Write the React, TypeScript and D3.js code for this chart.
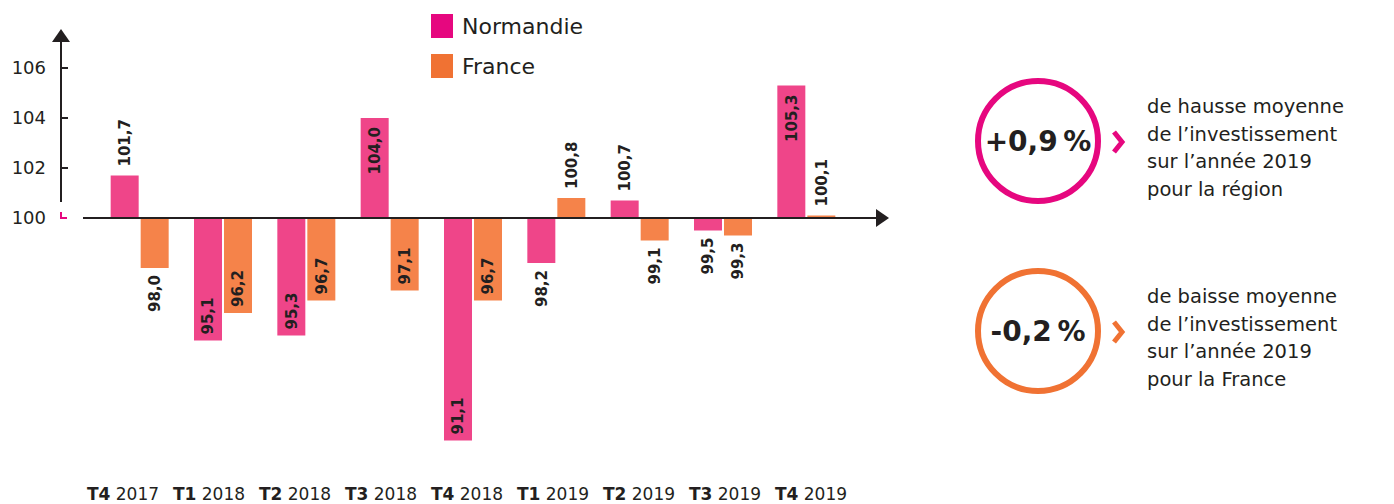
import { useEffect } from 'react';
import * as d3 from 'd3';

// quarters and indices (base 100)
const quarters = ["T4 2017", "T1 2018", "T2 2018", "T3 2018", "T4 2018", "T1 2019", "T2 2019", "T3 2019", "T4 2019"];
const normandie = [101.7, 95.1, 95.3, 104.0, 91.1, 98.2, 100.7, 99.5, 105.3];
const france = [98.0, 96.2, 96.7, 97.1, 96.7, 100.8, 99.1, 99.3, 100.1];
const yTicks = [100, 102, 104, 106];
const seriesNames = ["Normandie", "France"];

const barColors = { Normandie: "#ef4589", France: "#f5834a" };
const legendColors = { Normandie: "#e6077f", France: "#f07233" };

const FONT = "'DejaVu Sans', 'Noto Sans', sans-serif";
const fmt = (v: number) => v.toFixed(1).replace(".", ",");

const App = () => {
  useEffect(() => {
    document.body.style.margin = "0";
  }, []);

  const width = 1394;
  const height = 504;

  const y = d3.scaleLinear().domain([100, 106]).range([218, 68]);
  const x = d3.scaleBand().domain(quarters).range([98, 848]);
  const xInner = d3.scaleBand().domain(seriesNames).range([0, 58]).paddingInner(2 / 30);
  // the quarter labels sit on a slightly wider grid than the bars
  const xLabel = d3.scaleBand().domain(quarters).range([80, 854]);

  const bars = quarters.flatMap((q, i) => [
    { q, series: "Normandie", value: normandie[i] },
    { q, series: "France", value: france[i] },
  ]);

  const y0 = y(100);
  const barX = (d: { q: string; series: string }) =>
    (x(d.q) as number) + (x.bandwidth() - 58) / 2 + (xInner(d.series) as number);

  return (
    <svg width={width} height={height} style={{ display: "block", fontFamily: FONT }}>
      {/* y axis */}
      <line x1={61} x2={61} y1={202} y2={42} stroke="#231f20" strokeWidth={2} />
      <path d="M52,42 L61,29 L70,42 Z" fill="#231f20" />
      {yTicks.filter(t => t !== 100).map(t => (
        <line key={t} x1={61} x2={68} y1={y(t)} y2={y(t)} stroke="#231f20" strokeWidth={2} />
      ))}
      {yTicks.map(t => (
        <text key={t} x={46} y={y(t)} dy="0.36em" textAnchor="end" fontSize={18} fill="#231f20">{t}</text>
      ))}
      {/* axis break mark */}
      <path d="M61,212 L61,218 L67,218" fill="none" stroke="#e6077f" strokeWidth={2} />

      {/* bars */}
      {bars.map(d => {
        const top = Math.min(y(d.value), y0);
        const h = Math.abs(y(d.value) - y0);
        return (
          <rect key={d.q + d.series} x={barX(d)} y={top} width={xInner.bandwidth()} height={h}
            fill={barColors[d.series as keyof typeof barColors]} />
        );
      })}

      {/* x axis */}
      <line x1={83} x2={878} y1={y0} y2={y0} stroke="#231f20" strokeWidth={2} />
      <path d="M876,209 L889,218 L876,227 Z" fill="#231f20" />

      {/* value labels */}
      {bars.map(d => {
        const cx = barX(d) + xInner.bandwidth() / 2;
        const end = y(d.value);
        const inside = Math.abs(end - y0) > 55;
        const up = d.value >= 100;
        let ay: number;
        let anchor: string;
        if (up) {
          ay = inside ? end + 9 : end - 9;
          anchor = inside ? "end" : "start";
        } else {
          ay = inside ? end - 6 : end + 7;
          anchor = inside ? "start" : "end";
        }
        return (
          <text key={"l" + d.q + d.series} transform={`translate(${cx},${ay}) rotate(-90)`}
            dy="0.36em" textAnchor={anchor} fontSize={15} fontWeight={700} fill="#231f20">
            {fmt(d.value)}
          </text>
        );
      })}

      {/* quarter labels */}
      {quarters.map(q => {
        const [t, yr] = q.split(" ");
        return (
          <text key={q} x={(xLabel(q) as number) + xLabel.bandwidth() / 2} y={500}
            textAnchor="middle" fontSize={17} fill="#231f20">
            <tspan fontWeight={700}>{t}</tspan>
            <tspan> {yr}</tspan>
          </text>
        );
      })}

      {/* legend */}
      {seriesNames.map((s, i) => (
        <g key={s} transform={`translate(431,${14 + i * 40})`}>
          <rect width={22} height={24} fill={legendColors[s as keyof typeof legendColors]} />
          <text x={31} y={12} dy="0.36em" fontSize={22} fill="#231f20">{s}</text>
        </g>
      ))}

      {/* callouts */}
      {[
        { cy: 141, color: legendColors.Normandie, value: "+0,9\u202f%", lines: ["de hausse moyenne", "de l\u2019investissement", "sur l\u2019ann\u00e9e 2019", "pour la r\u00e9gion"] },
        { cy: 331, color: legendColors.France, value: "-0,2\u202f%", lines: ["de baisse moyenne", "de l\u2019investissement", "sur l\u2019ann\u00e9e 2019", "pour la France"] },
      ].map(c => (
        <g key={c.value}>
          <circle cx={1038} cy={c.cy} r={60} fill="none" stroke={c.color} strokeWidth={6} />
          <text x={1038} y={c.cy + 10} textAnchor="middle" fontSize={28} fontWeight={700} fill="#231f20">{c.value}</text>
          <path d={`M1114,${c.cy - 9} L1122,${c.cy + 1} L1114,${c.cy + 11}`} fill="none" stroke={c.color} strokeWidth={5} />
          {c.lines.map((l, i) => (
            <text key={l} x={1147} y={c.cy - 28 + i * 27.5} fontSize={19.5} fill="#231f20">{l}</text>
          ))}
        </g>
      ))}
    </svg>
  );
};

export default App;
